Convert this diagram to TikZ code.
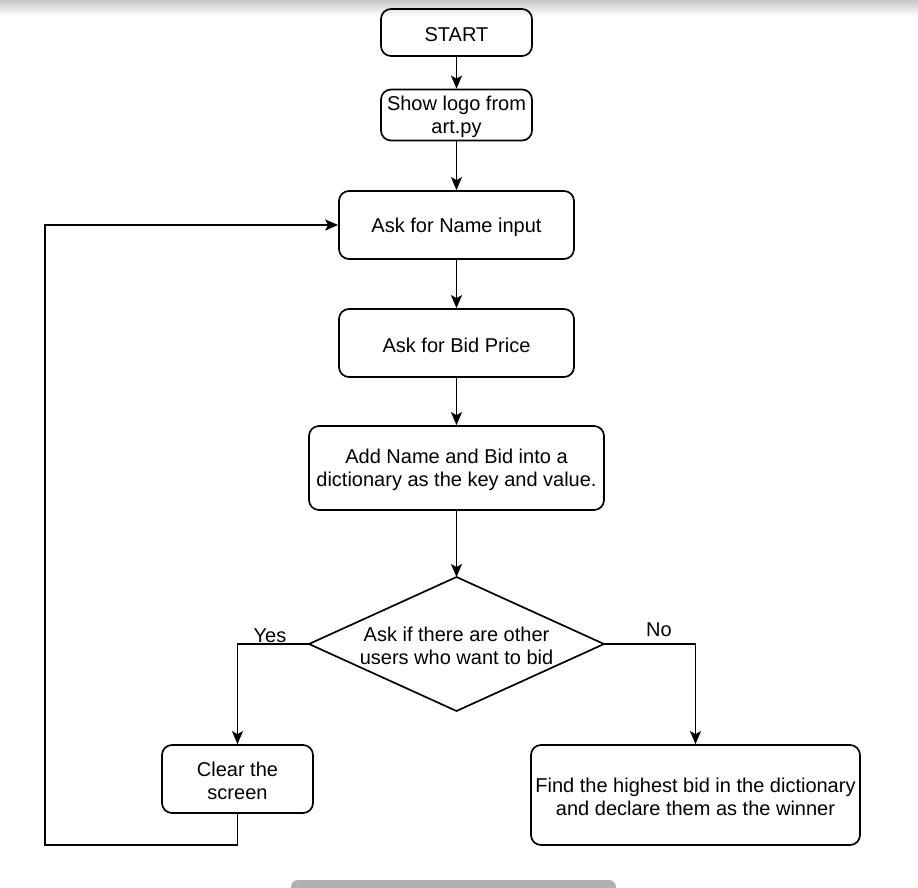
\documentclass[tikz,border=0pt]{standalone}
\usepackage{fontspec}
\setmainfont{Liberation Sans}
\usetikzlibrary{arrows.meta,shapes.geometric}
\begin{document}
\begin{tikzpicture}[x=1pt,y=-1pt,
  box/.style={draw,line width=1.7pt,rounded corners=10pt,align=center,font=\fontsize{20}{23}\selectfont,inner sep=0pt},
  conn/.style={line width=1.8pt,-{Stealth[length=13pt,width=11pt,inset=3pt]}},
  lbl/.style={font=\fontsize{20}{23}\selectfont,inner sep=0pt}]
\useasboundingbox (0,0) rectangle (918,888);
% window decorations
\shade[top color=black!22,bottom color=white] (0,0) rectangle (918,16);
\fill[black!31,rounded corners=7pt] (291,880) rectangle (616,900);
% box outlines
\node[box,minimum width=151pt,minimum height=47pt] (start) at (456.5,32.5) {};
\node[box,minimum width=151pt,minimum height=51pt] (logo) at (456.5,115) {};
\node[box,minimum width=235pt,minimum height=68pt] (name) at (456.5,225) {};
\node[box,minimum width=235pt,minimum height=68pt] (bid) at (456.5,343) {};
\node[box,minimum width=295pt,minimum height=84pt] (add) at (456.5,468) {};
\node[box,minimum width=151pt,minimum height=68pt] (clear) at (237.5,779) {};
\node[box,minimum width=329pt,minimum height=100pt] (win) at (695.5,795) {};
\draw[line width=1.7pt,line join=miter] (309,644) coordinate (dl) -- (456.5,577) coordinate (dt) -- (604,644) coordinate (dr) -- (456.5,711) -- cycle;
% texts
\node[lbl] (tstart) at ([yshift=-2pt]start.center) {START};
\node[lbl,align=center] (tlogo) at ([yshift=-2pt]logo.center) {Show logo from\\art.py};
\node[lbl] (tname) at ([yshift=-2pt]name.center) {Ask for Name input};
\node[lbl] (tbid) at ([yshift=-2pt]bid.center) {Ask for Bid Price};
\node[lbl,align=center] (tadd) at ([yshift=-2pt]add.center) {Add Name and Bid into a\\dictionary as the key and value.};
\node[lbl,align=center] (q) at (456.5,646) {Ask if there are other\\users who want to bid};
\node[lbl,align=center] (tclear) at ([yshift=-2pt]clear.center) {Clear the\\screen};
\node[lbl,align=center] (twin) at ([yshift=-2pt]win.center) {Find the highest bid in the dictionary\\and declare them as the winner};
% connectors
\draw[conn] (start) -- (logo);
\draw[conn] (logo) -- (name);
\draw[conn] (name) -- (bid);
\draw[conn] (bid) -- (add);
\draw[conn] (add) -- (dt);
\draw[conn] (dl) -| (clear.north);
\draw[conn] (dr) -| (win.north);
\coordinate (c1) at (237.5,845);
\coordinate (c2) at (45,845);
\coordinate (c3) at (45,225);
\draw[conn] (clear.south) -- (c1) -- (c2) -- (c3) -- (name.west);
\node[lbl] (yes) at (270,636) {Yes};
\node[lbl] (no) at (659,630) {No};
\end{tikzpicture}
\end{document}
